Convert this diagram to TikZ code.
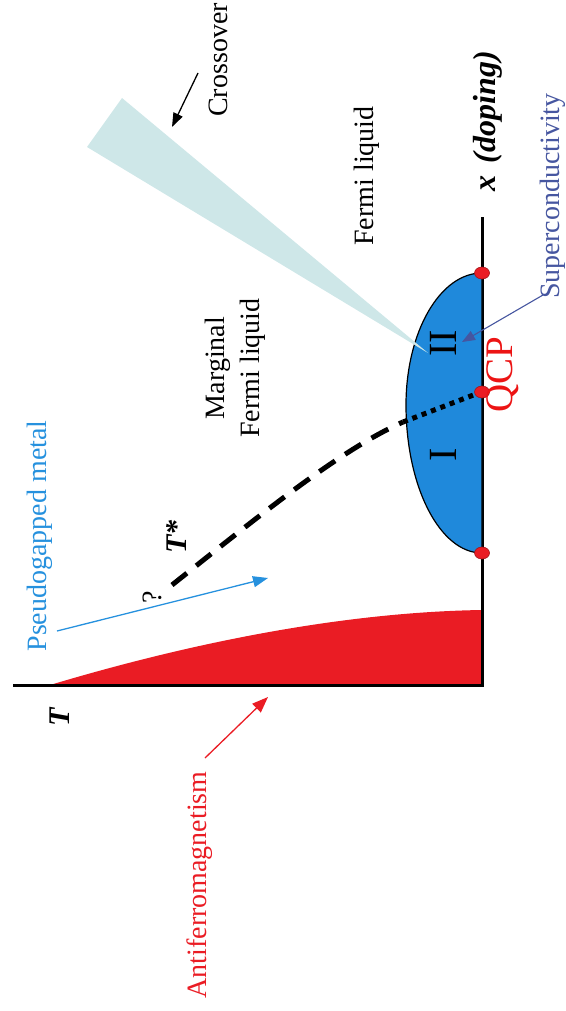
\documentclass[tikz,border=0pt]{standalone}
\usepackage{fontspec}
\setmainfont{Liberation Serif}
\usetikzlibrary{arrows.meta,shapes.geometric}
\definecolor{afred}{RGB}{234,28,36}
\definecolor{domeblue}{RGB}{31,137,219}
\definecolor{pgblue}{RGB}{38,145,222}
\definecolor{slate}{RGB}{70,86,160}
\definecolor{wedgecyan}{RGB}{206,231,232}
\definecolor{qcpred}{RGB}{236,20,20}
\begin{document}
\begin{tikzpicture}[x=1pt,y=-1pt,
  lbl/.style={rotate=90,inner sep=0pt,font=\fontsize{28}{35}\selectfont},
  bilbl/.style={rotate=90,inner sep=0pt,font=\fontsize{30}{35}\selectfont\bfseries\itshape},
  roman/.style={rotate=90,inner sep=0pt,font=\fontsize{40}{40}\selectfont},
  reddot/.style={ellipse,fill=afred,draw=afred!70!black,line width=0.6pt,minimum width=15pt,minimum height=12pt,inner sep=0pt},
  axis/.style={line width=3pt,black},
  pointer/.style={line width=1.3pt,-{Triangle[length=15pt,width=11pt]}}]
\useasboundingbox (0,0) rectangle (565,1011);
% antiferromagnetic region
\fill[afred] (50,685) .. controls (200,640) and (350,612) .. (482,610) -- (482,685) -- cycle;
% axes
\coordinate (origin) at (482,685);
\coordinate (Tend) at (13,685);
\coordinate (xend) at (482,217);
\draw[axis] (Tend) -- (origin) -- (xend);
% superconducting dome
\fill[domeblue,draw=black,line width=1.2pt] (482,273) .. controls (440,273) and (406,332) .. (406,405)
  .. controls (406,487) and (440,553) .. (482,553) -- cycle;
% crossover wedge
\fill[wedgecyan] (87,147) -- (122,98) -- (428,353) -- cycle;
% T* line
\coordinate (tsStart) at (172,585);
\coordinate (tsMid) at (403,422);
\draw[line width=5pt,dash pattern=on 19pt off 12pt] (tsStart) .. controls (260,515) and (340,450) .. (tsMid);
\draw[line width=5pt,dash pattern=on 5pt off 5pt] (tsMid) -- (476,394);
% dots
\node[reddot] (dA) at (482,273) {};
\node[reddot] (qcpdot) at (482,392) {};
\node[reddot] (dB) at (482,553) {};
% labels
\node[lbl] (crossover) at (218,60) {Crossover};
\node[lbl] (fermi) at (367,176) {Fermi liquid};
\node[lbl,align=center] (mfl) at (235,368) {Marginal\\Fermi liquid};
\node[bilbl,font=\fontsize{32}{35}\selectfont\bfseries\itshape] (xlabel) at (488,121) {x\hspace{12pt}(doping)};
\node[lbl,text=slate] (sc) at (553,196) {Superconductivity};
\node[rotate=90,inner sep=0pt,font=\fontsize{39}{39}\selectfont,text=qcpred] (qcp) at (503,375) {QCP};
\node[roman] (II) at (443,343) {II};
\node[roman] (I) at (443,455) {I};
\node[bilbl] (tstar) at (177,537) {T*};
\node[lbl] (qm) at (152,597) {?};
\node[lbl,text=pgblue] (pg) at (40,536) {Pseudogapped metal};
\node[bilbl] (Tlabel) at (60,717) {T};
\node[lbl,text=afred] (af) at (200,885) {Antiferromagnetism};
% pointers
\coordinate (crA) at (198,73);
\coordinate (crB) at (172,127);
\draw[pointer,-{Triangle[length=14pt,width=10pt]}] (crA) -- (crB);
\coordinate (scA) at (543,295);
\coordinate (scB) at (462,342);
\draw[pointer,slate,line width=1.1pt,-{Triangle[length=13pt,width=10pt]}] (scA) -- (scB);
\coordinate (pgA) at (57,631);
\coordinate (pgB) at (268,578);
\draw[pointer,pgblue] (pgA) -- (pgB);
\coordinate (afA) at (205,758);
\coordinate (afB) at (268,697);
\draw[pointer,afred,-{Triangle[length=16pt,width=12pt]}] (afA) -- (afB);
\end{tikzpicture}
\end{document}
